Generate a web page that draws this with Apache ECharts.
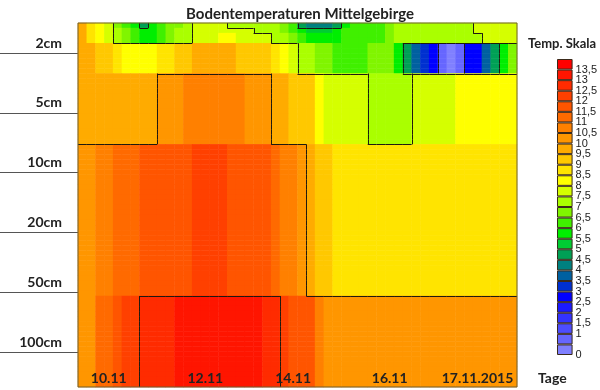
<!DOCTYPE html>
<html><head><meta charset="utf-8">
<script src="https://cdn.jsdelivr.net/npm/echarts@6/dist/echarts.min.js"></script>
<style>html,body{margin:0;padding:0;background:#fff}#chart{width:600px;height:390px}</style>
</head><body><div id="chart"></div>
<script>
// ---- data (°C), 50 time steps per depth band ----
const chartTitle = 'Bodentemperaturen Mittelgebirge';
const scaleTitle = 'Temp. Skala';
const dayLabels = ['10.11', '12.11', '14.11', '16.11', '17.11.2015'];
const dayLabelColumns = [3, 14, 24, 35, 45];
const depthLabels = ['2cm', '5cm', '10cm', '20cm', '50cm', '100cm'];
const legendLevels = [0, 0.5, 1, 1.5, 2, 2.5, 3, 3.5, 4, 4.5, 5, 5.5, 6, 6.5, 7, 7.5, 8, 8.5, 9, 9.5, 10, 10.5, 11, 11.5, 12, 12.5, 13, 13.5];
const legendMax = 14;
const contourLevels = [2.5, 5, 7.5, 10, 12.5];

const tempSurface0 = [9.75, 8.75, 8.25, 7.75, 6.75, 6.25, 5.75, 4.75, 5.75, 6.25,
  6.75, 6.75, 7.25, 7.75, 7.75, 7.75, 7.75, 7.25, 7.25, 7.25,
  7.25, 7.25, 7.25, 6.75, 6.25, 4.75, 4.25, 4.25, 4.25, 4.75,
  5.75, 6.25, 6.25, 6.25, 6.25, 6.75, 7.25, 7.25, 7.25, 7.25,
  7.25, 7.25, 7.25, 7.25, 7.25, 7.75, 7.75, 7.75, 7.75, 7.75];
const tempSurface1 = [9.75, 8.75, 8.25, 7.75, 7.25, 6.75, 6.25, 5.75, 5.75, 6.25,
  6.75, 7.25, 7.25, 7.75, 7.75, 7.75, 7.75, 7.75, 7.75, 7.75,
  7.25, 7.25, 7.25, 6.75, 6.25, 5.75, 5.25, 5.25, 5.25, 5.75,
  6.25, 6.25, 6.25, 6.25, 6.25, 6.75, 7.25, 7.25, 7.25, 7.25,
  7.25, 7.25, 7.25, 7.25, 7.25, 7.75, 7.75, 7.75, 7.75, 7.75];
const tempSurface2 = [9.75, 8.75, 8.25, 7.75, 7.25, 6.75, 6.25, 5.75, 5.75, 6.25,
  6.75, 7.25, 7.25, 7.75, 7.75, 7.75, 8.25, 8.25, 7.75, 7.75,
  7.75, 7.75, 7.25, 7.25, 6.75, 6.25, 5.75, 5.75, 5.75, 5.75,
  6.25, 6.25, 6.25, 6.25, 6.25, 6.75, 7.25, 7.25, 7.25, 7.25,
  7.25, 7.25, 7.25, 7.25, 7.25, 7.25, 7.75, 7.75, 7.75, 7.75];
const temp2cm = [9.75, 9.75, 9.25, 9.25, 8.75, 8.25, 8.25, 8.25, 8.25, 8.75,
  8.75, 9.25, 9.25, 9.75, 9.75, 9.75, 9.75, 9.75, 9.25, 9.25,
  9.25, 9.25, 8.75, 8.25, 7.75, 7.25, 7.25, 6.75, 6.75, 6.25,
  6.25, 6.25, 6.25, 6.75, 6.75, 6.75, 5.75, 4.75, 3.75, 3.25,
  2.75, 0.75, 0.25, 0.75, 2.75, 2.75, 3.75, 4.75, 5.75, 6.75];
const temp5cm = [9.75, 9.75, 9.75, 9.75, 9.75, 9.75, 9.75, 9.75, 9.75, 10.25,
  10.25, 10.25, 10.75, 10.75, 10.75, 10.75, 10.75, 10.75, 10.75, 10.25,
  10.25, 10.25, 9.75, 9.75, 9.25, 9.25, 9.25, 8.25, 7.75, 7.75,
  7.75, 7.75, 7.75, 7.25, 7.25, 7.25, 7.25, 7.25, 7.75, 7.75,
  7.75, 7.75, 7.75, 8.25, 8.25, 8.25, 8.25, 8.25, 8.25, 8.25];
const temp10to50cm = [10.25, 10.25, 10.75, 10.75, 11.25, 11.25, 11.25, 11.75, 11.75, 11.75,
  11.75, 11.75, 11.75, 12.25, 12.25, 12.25, 12.25, 11.75, 11.75, 11.75,
  11.75, 11.75, 11.25, 10.75, 10.75, 10.25, 9.75, 9.25, 9.25, 8.75,
  8.75, 8.75, 8.75, 8.75, 8.75, 8.75, 8.75, 8.75, 8.75, 8.75,
  8.75, 8.75, 8.75, 8.75, 8.75, 8.75, 8.75, 8.75, 8.75, 8.75];
const temp100cm = [10.25, 10.25, 11.25, 11.25, 11.75, 12.25, 12.25, 12.75, 12.75, 12.75,
  12.75, 13.25, 13.25, 13.25, 13.25, 13.25, 13.25, 13.25, 13.25, 13.25,
  13.25, 12.75, 12.75, 12.25, 11.75, 11.75, 11.75, 10.75, 10.25, 10.25,
  10.25, 10.25, 10.25, 10.25, 10.25, 10.25, 10.25, 10.25, 10.25, 10.25,
  10.25, 10.25, 10.25, 10.25, 10.25, 10.25, 10.25, 10.25, 10.25, 10.25];
// grid rows each depth band occupies (top to bottom)
const depthBands = [tempSurface0, tempSurface1, tempSurface2, temp2cm, temp5cm, temp10to50cm, temp100cm];
const depthBandRows = [1, 1, 2, 6, 14, 30, 18];

// ---- styles ----
const palette = ['#8080ff', '#6666ff', '#4d4dff', '#3333ff', '#1a1aff', '#0000ff', '#0030d0', '#0060a0',
  '#008080', '#00a055', '#00cc33', '#00ee00', '#40f000', '#80f500', '#aaff00', '#d5ff00',
  '#ffff00', '#ffe400', '#ffc800', '#ffab00', '#ff9600', '#ff8000', '#ff6a00', '#ff5500',
  '#ff4000', '#ff2b00', '#ff1500', '#ff0000'];
const FONT = 'Lato';
const TXT = '#222';

// ---- build grid ----
const tempGrid = [];
depthBands.forEach((arr, b) => { for (let k = 0; k < depthBandRows[b]; k++) tempGrid.push(arr); });
const nRows = tempGrid.length, nCols = temp100cm.length;
const colCats = temp100cm.map((_, i) => String(i));
const rowCats = tempGrid.map((_, j) => String(j));
const heatData = [], cellData = [];
tempGrid.forEach((row, j) => row.forEach((v, i) => { heatData.push([i, j, v]); cellData.push([i, j]); }));

const crosses = (a, b) => contourLevels.some(L => (a < L) !== (b < L));
function renderContour(params, api) {
  const i = api.value(0), j = api.value(1);
  const c = api.coord([i, j]);
  const s = api.size([1, 1]);
  const v = tempGrid[j][i];
  const children = [];
  const st = { stroke: '#1e1a10', lineWidth: 1 };
  if (i + 1 < nCols && crosses(v, tempGrid[j][i + 1])) {
    const x = Math.round(c[0] + s[0] / 2) + 0.5;
    children.push({ type: 'line', shape: { x1: x, y1: c[1] - s[1] / 2, x2: x, y2: c[1] + s[1] / 2 }, style: st });
  }
  if (j + 1 < nRows && crosses(v, tempGrid[j + 1][i])) {
    const y = Math.round(c[1] + s[1] / 2) + 0.5;
    children.push({ type: 'line', shape: { x1: c[0] - s[0] / 2, y1: y, x2: c[0] + s[0] / 2, y2: y }, style: st });
  }
  return { type: 'group', children };
}

const pieces = legendLevels.map((lo, i) => ({ gte: lo, lt: i + 1 < legendLevels.length ? legendLevels[i + 1] : legendMax, color: palette[i] }));
const legendSeries = legendLevels.map((lo, i) => ({
  type: 'bar', xAxisIndex: 2, yAxisIndex: 2, stack: 'scale', barWidth: '100%', silent: true,
  data: [(i + 1 < legendLevels.length ? legendLevels[i + 1] : legendMax) - lo],
  itemStyle: { color: palette[i], borderColor: '#3a2a1a', borderWidth: 1 }
}));

const chart = echarts.init(document.getElementById('chart'), null, { renderer: 'canvas' });
chart.setOption({
  backgroundColor: '#fff',
  animation: false,
  title: [
    { text: chartTitle, left: 'center', top: 2, textStyle: { fontFamily: FONT, fontWeight: 'bold', fontSize: 15, color: TXT } },
    { text: scaleTitle, left: 523, top: 32, textStyle: { fontFamily: FONT, fontWeight: 'bold', fontSize: 13, color: TXT } }
  ],
  grid: [
    { left: 78, top: 23, width: 439, height: 364, show: true, z: 10, backgroundColor: 'transparent', borderColor: '#6e5e30', borderWidth: 1 },
    { left: 0, top: 53, width: 78, height: 299 },
    { left: 557, top: 59, width: 18, height: 296 }
  ],
  xAxis: [
    { gridIndex: 0, type: 'category', data: colCats, z: 12,
      axisLine: { show: false }, axisTick: { show: false }, splitLine: { show: false },
      axisLabel: { inside: true, margin: 2, interval: (idx) => dayLabelColumns.includes(idx),
        formatter: (val, idx) => dayLabels[dayLabelColumns.indexOf(idx)] || '',
        fontFamily: FONT, fontWeight: 'bold', fontSize: 14, color: TXT },
      name: 'Tage', nameLocation: 'end', nameGap: 21,
      nameTextStyle: { fontFamily: FONT, fontWeight: 'bold', fontSize: 14, color: TXT, verticalAlign: 'bottom', padding: [0, 0, 2, 0] } },
    { gridIndex: 1, type: 'value', min: 0, max: 1, show: false },
    { gridIndex: 2, type: 'category', data: [''], show: false }
  ],
  yAxis: [
    { gridIndex: 0, type: 'category', data: rowCats, inverse: true, show: false },
    { gridIndex: 1, type: 'category', data: depthLabels, inverse: true, boundaryGap: false, position: 'right',
      axisLine: { show: false }, axisTick: { show: false },
      splitLine: { show: true, interval: 0, lineStyle: { color: '#555', width: 1 } },
      axisLabel: { inside: true, margin: 16, interval: 0, verticalAlign: 'bottom', padding: [0, 0, 3, 0],
        fontFamily: FONT, fontWeight: 'bold', fontSize: 14, color: TXT } },
    { gridIndex: 2, type: 'value', min: 0, max: legendMax, interval: 0.5, position: 'right',
      axisLine: { show: false }, axisTick: { show: false }, splitLine: { show: false },
      axisLabel: { margin: 3, showMinLabel: true, showMaxLabel: false, hideOverlap: false,
        fontFamily: 'Liberation Sans', fontSize: 11, color: TXT,
        formatter: (v) => v >= legendMax ? '' : String(v).replace('.', ',') } }
  ],
  visualMap: { type: 'piecewise', show: false, seriesIndex: 0, dimension: 2, pieces: pieces },
  series: [
    { type: 'heatmap', xAxisIndex: 0, yAxisIndex: 0, data: heatData, progressive: 0, silent: true },
    { type: 'custom', xAxisIndex: 0, yAxisIndex: 0, data: cellData, renderItem: renderContour, progressive: 0, silent: true, z: 4 }
  ].concat(legendSeries)
});
</script></body></html>
